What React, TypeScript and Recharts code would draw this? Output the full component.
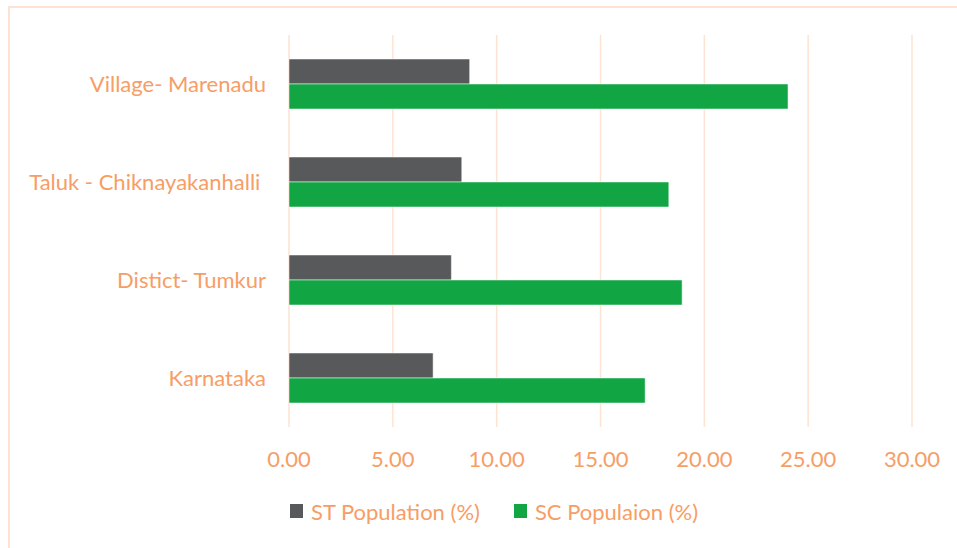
import { BarChart, Bar, XAxis, YAxis, CartesianGrid, Legend } from 'recharts';

const regions = ['Village- Marenadu', 'Taluk - Chiknayakanhalli\u00a0', 'Distict- Tumkur', 'Karnataka'];
const stPopulation = [8.7, 8.32, 7.82, 6.94];
const scPopulation = [24.03, 18.29, 18.93, 17.15];
const xTicks = [0, 5, 10, 15, 20, 25, 30];
const seriesNames = ['ST Population (%)', 'SC Populaion (%)'];

const data = regions.map((name, i) => ({
  name,
  st: stPopulation[i],
  sc: scPopulation[i],
}));

const ORANGE = '#f79d66';
const GRID = '#fde3d4';
const FONT = 'Lato, "Open Sans", sans-serif';

// keep legend in series order (recharts sorts it by name otherwise)
const renderLegend = (props: any) => {
  const items = [...props.payload].sort(
    (a: any, b: any) => seriesNames.indexOf(a.value) - seriesNames.indexOf(b.value)
  );
  return (
    <div style={{ display: 'flex', alignItems: 'center', height: 24, fontFamily: FONT, fontSize: 22, color: ORANGE }}>
      {items.map((entry: any) => (
        <div key={entry.value} style={{ display: 'flex', alignItems: 'center', marginRight: 34 }}>
          <span style={{ width: 13, height: 14, background: entry.color, marginRight: 8, display: 'inline-block' }} />
          <span style={{ whiteSpace: 'pre' }}>{entry.value}</span>
        </div>
      ))}
    </div>
  );
};

export default function App() {
  return (
    <div
      style={{
        position: 'absolute',
        left: 8,
        top: 6,
        width: 949,
        height: 542,
        borderLeft: `2px solid ${GRID}`,
        borderTop: `2px solid ${GRID}`,
        boxSizing: 'border-box',
        background: '#fff',
      }}
    >
      <BarChart
        width={945}
        height={538}
        data={data}
        layout="vertical"
        margin={{ top: 27, right: 43, left: 0, bottom: 23 }}
        barGap={0}
      >
        <CartesianGrid horizontal={false} stroke={GRID} strokeWidth={1.5} />
        <XAxis
          type="number"
          domain={[0, 30]}
          ticks={xTicks}
          tickFormatter={(v: number) => v.toFixed(2)}
          axisLine={false}
          tickLine={false}
          tickSize={0}
          tickMargin={24}
          height={72}
          tick={{ fill: ORANGE, fontSize: 22, fontFamily: FONT }}
        />
        <YAxis
          type="category"
          dataKey="name"
          width={279}
          axisLine={false}
          tickLine={false}
          tickSize={0}
          tickMargin={23}
          tick={{ fill: ORANGE, fontSize: 22, fontFamily: FONT }}
        />
        <Legend verticalAlign="bottom" align="left" wrapperStyle={{ left: 280 }} content={renderLegend} />
        <Bar dataKey="st" name={seriesNames[0]} fill="#58595b" stroke="#ffffff" strokeOpacity={0.5} barSize={25} isAnimationActive={false} />
        <Bar dataKey="sc" name={seriesNames[1]} fill="#11a543" stroke="#ffffff" strokeOpacity={0.5} barSize={25} isAnimationActive={false} />
      </BarChart>
    </div>
  );
}
